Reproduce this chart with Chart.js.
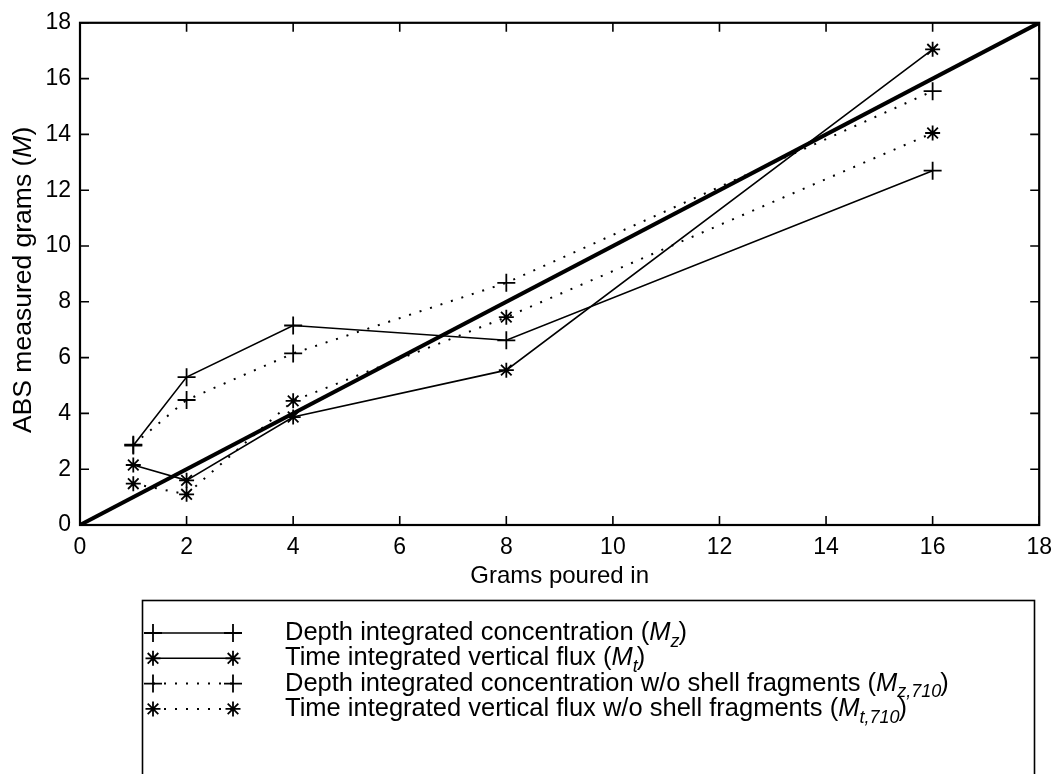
<!DOCTYPE html>
<html lang="en">
<head>
    <meta charset="UTF-8">
    <title>ABS measured grams vs grams poured in</title>
    <script src="https://cdn.jsdelivr.net/npm/chart.js"></script>
    <style>
        body {
            margin: 0;
            background: white;
        }
        #wrap {
            width: 1061px;
            height: 774px;
        }
    </style>
</head>
<body>
    <div id="wrap"><canvas id="absChart" width="1061" height="774"></canvas></div>

    <script>
        // grams poured in
        const gramsIn = [1, 2, 4, 8, 16];

        // ABS measured grams, one array per method
        const depthConc = [2.85, 5.3, 7.15, 6.62, 12.7];        // M_z
        const timeFlux = [2.15, 1.6, 3.87, 5.55, 17.05];        // M_t
        const depthConc710 = [2.88, 4.48, 6.15, 8.68, 15.55];   // M_z,710
        const timeFlux710 = [1.48, 1.1, 4.45, 7.45, 14.05];     // M_t,710

        // 1:1 line
        const oneToOneX = [0, 18];
        const oneToOneY = [0, 18];

        const axisTicks = [0, 2, 4, 6, 8, 10, 12, 14, 16, 18];

        // legend text: [before M, subscript]
        const legendText = [
            ['Depth integrated concentration (', 'z'],
            ['Time integrated vertical flux (', 't'],
            ['Depth integrated concentration w/o shell fragments (', 'z,710'],
            ['Time integrated vertical flux w/o shell fragments (', 't,710']
        ];

        const FONT = '"Liberation Sans", Arial, Helvetica, sans-serif';

        function pts(xs, ys) {
            return xs.map((x, i) => ({ x: x, y: ys[i] }));
        }

        function series(values, style, dashed) {
            return {
                data: pts(gramsIn, values),
                borderColor: '#000',
                borderWidth: dashed ? 2 : 1.6,
                borderDash: dashed ? [2, 9] : [],
                pointStyle: style,
                pointRadius: style === 'cross' ? 9 : 7.5,
                pointBorderWidth: 1.8,
                pointBorderColor: '#000',
                pointBackgroundColor: 'rgba(0,0,0,0)',
                fill: false,
                tension: 0
            };
        }

        const datasets = [
            series(depthConc, 'cross', false),
            series(timeFlux, 'star', false),
            series(depthConc710, 'cross', true),
            series(timeFlux710, 'star', true),
            {
                data: pts(oneToOneX, oneToOneY),
                borderColor: '#000',
                borderWidth: 4,
                pointRadius: 0,
                fill: false
            }
        ];

        // draws "text (M_sub)" with an italic M, starting at x
        function mathLabel(ctx, pre, sub, x, y, size) {
            ctx.font = size + 'px ' + FONT;
            ctx.fillText(pre, x, y);
            x += ctx.measureText(pre).width;
            ctx.font = 'italic ' + size + 'px ' + FONT;
            ctx.fillText('M', x, y);
            x += ctx.measureText('M').width;
            if (sub) {
                ctx.font = 'italic ' + Math.round(size * 0.7) + 'px ' + FONT;
                ctx.fillText(sub, x, y + size * 0.34);
                x += ctx.measureText(sub).width - 1;
            }
            ctx.font = size + 'px ' + FONT;
            ctx.fillText(')', x, y);
        }

        function mathWidth(ctx, pre, size) {
            ctx.font = size + 'px ' + FONT;
            let w = ctx.measureText(pre + ')').width;
            ctx.font = 'italic ' + size + 'px ' + FONT;
            return w + ctx.measureText('M').width;
        }

        // axes box with inward ticks on all four sides, plus the y title
        const frameTicks = {
            id: 'frameTicks',
            afterDatasetsDraw(chart) {
                const { ctx, chartArea: a, scales: { x, y } } = chart;
                ctx.save();
                ctx.strokeStyle = '#000';
                ctx.lineWidth = 1.6;
                ctx.beginPath();
                axisTicks.forEach(v => {
                    const px = x.getPixelForValue(v);
                    ctx.moveTo(px, a.bottom); ctx.lineTo(px, a.bottom - 9);
                    ctx.moveTo(px, a.top); ctx.lineTo(px, a.top + 9);
                    const py = y.getPixelForValue(v);
                    ctx.moveTo(a.left, py); ctx.lineTo(a.left + 9, py);
                    ctx.moveTo(a.right, py); ctx.lineTo(a.right - 9, py);
                });
                ctx.stroke();
                ctx.lineWidth = 2.2;
                ctx.strokeRect(a.left, a.top, a.right - a.left, a.bottom - a.top);

                // rotated y title with italic M
                const size = 26.5;
                ctx.fillStyle = '#000';
                ctx.textBaseline = 'middle';
                ctx.textAlign = 'left';
                ctx.translate(24, (a.top + a.bottom) / 2 + 6);
                ctx.rotate(-Math.PI / 2);
                const pre = 'ABS measured grams (';
                mathLabel(ctx, pre, '', -mathWidth(ctx, pre, size) / 2, 0, size);
                ctx.restore();
            }
        };

        // boxed legend under the axes
        const boxLegend = {
            id: 'boxLegend',
            afterDraw(chart) {
                const ctx = chart.ctx;
                ctx.save();
                ctx.strokeStyle = '#000';
                ctx.fillStyle = '#000';
                ctx.lineWidth = 1.6;
                ctx.strokeRect(142.5, 600.5, 892, 200);

                legendText.forEach((parts, i) => {
                    const ds = chart.data.datasets[i];
                    const rowY = 633 + i * 25.3;

                    // sample line
                    ctx.save();
                    ctx.lineWidth = ds.borderWidth;
                    ctx.setLineDash(ds.borderDash);
                    ctx.beginPath();
                    ctx.moveTo(153, rowY);
                    ctx.lineTo(233, rowY);
                    ctx.stroke();
                    ctx.restore();

                    ctx.lineWidth = ds.pointBorderWidth;
                    [153, 233].forEach(mx => {
                        Chart.helpers.drawPoint(ctx, {
                            pointStyle: ds.pointStyle,
                            radius: ds.pointRadius,
                            rotation: 0,
                            borderWidth: ds.pointBorderWidth
                        }, mx, rowY);
                    });
                    ctx.fillStyle = '#000';

                    ctx.textBaseline = 'middle';
                    ctx.textAlign = 'left';
                    mathLabel(ctx, parts[0], parts[1], 285, rowY, 25.5);
                });
                ctx.restore();
            }
        };

        const ctx = document.getElementById('absChart').getContext('2d');
        const absChart = new Chart(ctx, {
            type: 'line',
            data: { datasets: datasets },
            options: {
                responsive: false,
                animation: false,
                layout: { padding: { top: 20, right: 17, bottom: 183, left: 0 } },
                plugins: {
                    legend: { display: false },
                    tooltip: { enabled: false }
                },
                scales: {
                    x: {
                        type: 'linear',
                        min: 0,
                        max: 18,
                        afterFit: s => { s.height = 66; },
                        afterBuildTicks: s => { s.ticks = axisTicks.map(v => ({ value: v })); },
                        grid: { display: false, drawTicks: false },
                        border: { display: false },
                        ticks: {
                            padding: 9,
                            color: '#000',
                            font: { family: FONT, size: 23 },
                            maxRotation: 0
                        },
                        title: {
                            display: true,
                            text: 'Grams poured in',
                            color: '#000',
                            font: { family: FONT, size: 24 },
                            padding: { top: 0, bottom: 0 }
                        }
                    },
                    y: {
                        type: 'linear',
                        min: 0,
                        max: 18,
                        afterFit: s => { s.width = 80; },
                        afterBuildTicks: s => { s.ticks = axisTicks.map(v => ({ value: v })); },
                        grid: { display: false, drawTicks: false },
                        border: { display: false },
                        ticks: {
                            padding: 9,
                            color: '#000',
                            font: { family: FONT, size: 23 }
                        }
                    }
                }
            },
            plugins: [frameTicks, boxLegend]
        });
    </script>
</body>
</html>
